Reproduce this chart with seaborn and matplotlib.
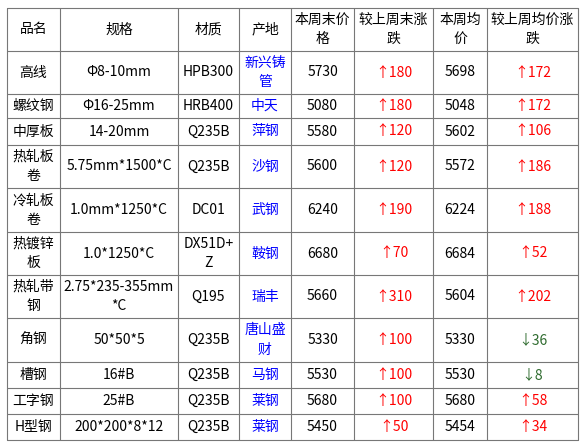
import matplotlib.pyplot as plt
import seaborn as sns

sns.set_style('white')
plt.rcParams['font.family'] = ['Noto Sans CJK SC', 'DejaVu Sans']

header = ['品名', '规格', '材质', '产地', '本周末价\n格', '较上周末涨\n跌', '本周均\n价', '较上周均价涨\n跌']
names = ['高线', '螺纹钢', '中厚板', '热轧板\n卷', '冷轧板\n卷', '热镀锌\n板', '热轧带\n钢', '角钢', '槽钢', '工字钢', 'H型钢']
specs = ['Φ8-10mm', 'Φ16-25mm', '14-20mm', '5.75mm*1500*C', '1.0mm*1250*C', '1.0*1250*C',
         '2.75*235-355mm\n*C', '50*50*5', '16#B', '25#B', '200*200*8*12']
materials = ['HPB300', 'HRB400', 'Q235B', 'Q235B', 'DC01', 'DX51D+\nZ', 'Q195', 'Q235B', 'Q235B', 'Q235B', 'Q235B']
origins = ['新兴铸\n管', '中天', '萍钢', '沙钢', '武钢', '鞍钢', '瑞丰', '唐山盛\n财', '马钢', '莱钢', '莱钢']
end_price = [5730, 5080, 5580, 5600, 6240, 6680, 5660, 5330, 5530, 5680, 5450]
end_chg = [180, 180, 120, 120, 190, 70, 310, 100, 100, 100, 50]
avg_price = [5698, 5048, 5602, 5572, 6224, 6684, 5604, 5330, 5530, 5680, 5454]
avg_chg = [172, 172, 106, 186, 188, 52, 202, -36, -8, 58, 34]

col_x = [7, 60, 178, 239, 291, 354, 433, 487, 578]
row_y = [8, 51, 94, 118, 145, 188, 232, 275, 318, 362, 388, 414, 440]

fig = plt.figure(figsize=(5.82, 4.47), dpi=100)
ax = fig.add_axes([0, 0, 1, 1])
ax.set_xlim(0, 582)
ax.set_ylim(447, 0)
ax.axis('off')

for x in col_x:
    ax.plot([x, x], [row_y[0], row_y[-1]], color='#777777', lw=0.8)
for y in row_y:
    ax.plot([col_x[0], col_x[-1]], [y, y], color='#777777', lw=0.8)

def cell(c, r, s, color='black'):
    cx = (col_x[c] + col_x[c + 1]) / 2
    cy = (row_y[r] + row_y[r + 1]) / 2
    ax.text(cx, cy, s, ha='center', va='center', fontsize=10, color=color, linespacing=1.5)

for c, h in enumerate(header):
    cell(c, 0, h)

def chg(v):
    if v >= 0:
        return '↑' + str(v), 'red'
    return '↓' + str(-v), '#2e6b2e'

for i in range(len(names)):
    r = i + 1
    cell(0, r, names[i])
    cell(1, r, specs[i])
    cell(2, r, materials[i])
    cell(3, r, origins[i], 'blue')
    cell(4, r, str(end_price[i]))
    s, col = chg(end_chg[i])
    cell(5, r, s, col)
    cell(6, r, str(avg_price[i]))
    s, col = chg(avg_chg[i])
    cell(7, r, s, col)

fig.savefig('out.png', dpi=100)
